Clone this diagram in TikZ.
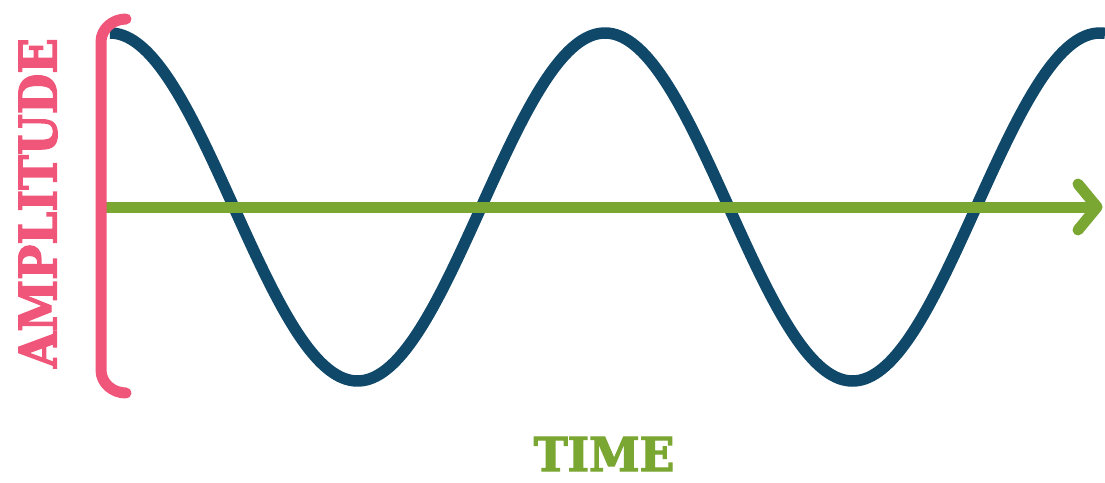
\documentclass[tikz,border=0pt]{standalone}
\usepackage{fontspec}
\newfontfamily\slabfont{DejaVu Serif Condensed Bold}[FakeBold=2.5]
\definecolor{wavecol}{RGB}{16,72,106}
\definecolor{axiscol}{RGB}{122,166,50}
\definecolor{pinkcol}{RGB}{240,86,122}
\tikzset{
  wave/.style={draw=wavecol, line width=11.5pt},
  axisline/.style={draw=axiscol, line width=11pt},
  bracketline/.style={draw=pinkcol, line width=11pt, line cap=round},
  lbl/.style={inner sep=0pt}
}
\begin{document}
\begin{tikzpicture}[x=1pt,y=-1pt]
\useasboundingbox (0,0) rectangle (1105,482);
% wave
\draw[wave] plot[domain=110:1105, samples=300, smooth] (\x, {207-174*cos(0.727273*(\x-110))});
% axis
\coordinate (axstart) at (106,207);
\coordinate (axtip) at (1097,207);
\coordinate (axup) at (1078,184);
\coordinate (axdn) at (1078,230);
\draw[axisline] (axstart) -- (axtip);
\draw[axisline, line cap=round, line join=round] (axup) -- (axtip) -- (axdn);
% bracket
\coordinate (btop) at (126,19);
\coordinate (bbot) at (126,393);
\draw[bracketline] (btop) to[out=180,in=90] (101,42) -- (101,370) to[out=-90,in=180] (bbot);
% labels
\node[lbl, text=pinkcol, rotate=90, font=\slabfont\fontsize{52}{52}\selectfont] (amp) at (38,203) {AMPLITUDE};
\node[lbl, text=axiscol, xscale=1.08, font=\slabfont\fontsize{47}{47}\selectfont] (time) at (604,454) {TIME};
\end{tikzpicture}
\end{document}
